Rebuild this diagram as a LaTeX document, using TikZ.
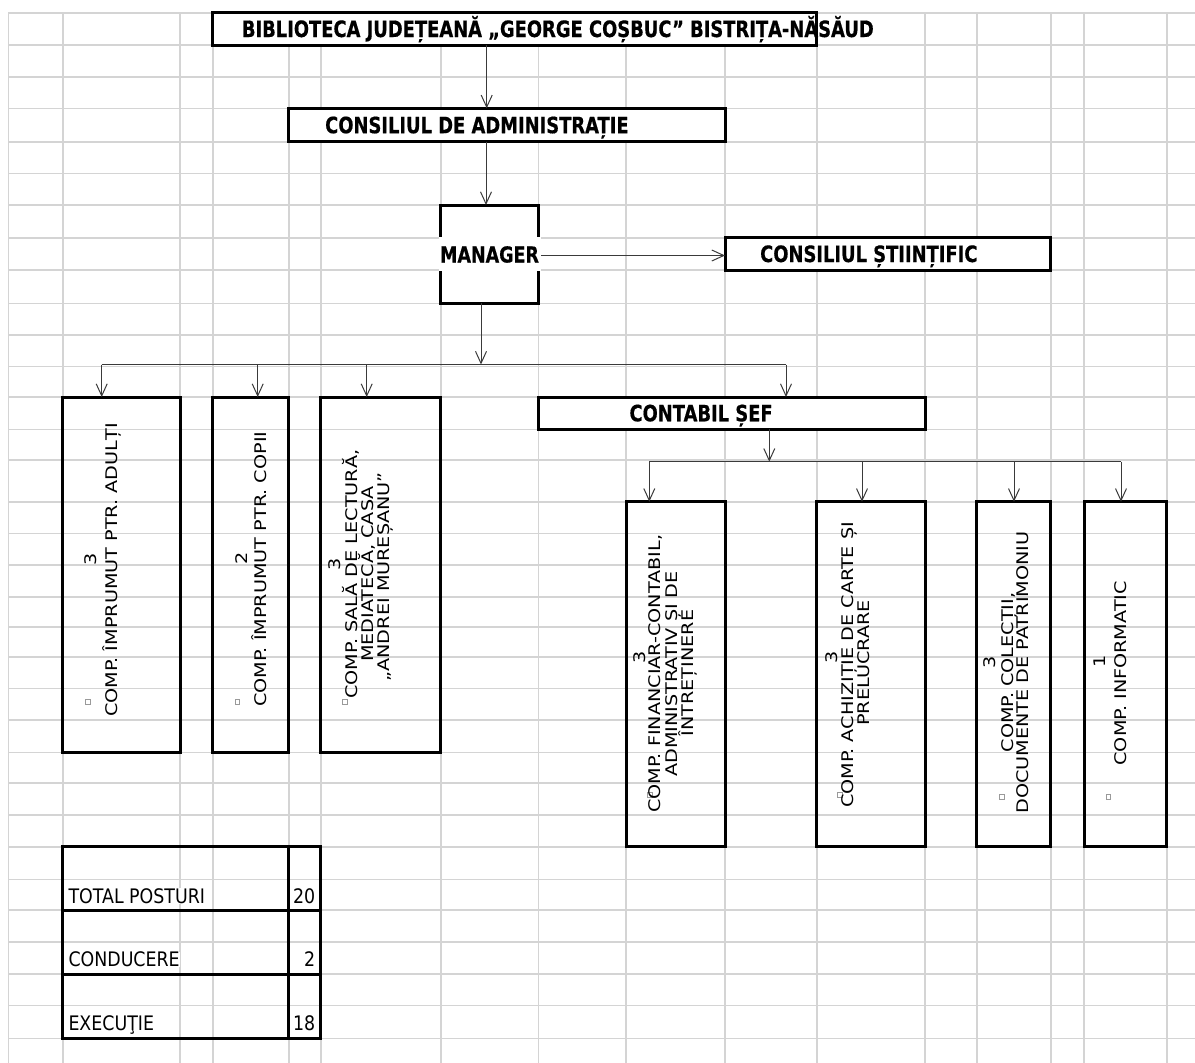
\documentclass[tikz,border=0pt]{standalone}
\usepackage{fontspec}
\setmainfont{DejaVu Sans}
\newfontfamily\hdfont[FakeStretch=0.795,FakeBold=0.5]{DejaVu Sans}
\newfontfamily\rotfont[FakeStretch=1.2]{DejaVu Sans}
\newfontfamily\tabfont[FakeStretch=0.87]{DejaVu Sans}
\usetikzlibrary{arrows.meta}
\definecolor{gridc}{HTML}{D4D4D4}
\definecolor{arrc}{HTML}{3A3A3A}
\definecolor{sqc}{HTML}{9A9A9A}
\begin{document}
\begin{tikzpicture}[x=1pt,y=-1pt,
  gridl/.style={draw=gridc,line width=1.6pt},
  boxs/.style={draw=black,line width=3pt,rectangle,inner sep=0pt,outer sep=0pt},
  hd/.style={font=\hdfont\bfseries\fontsize{22.5pt}{23pt}\selectfont,inner sep=0pt,anchor=base west},
  rt/.style={font=\rotfont\fontsize{16pt}{16pt}\selectfont,inner sep=0pt,anchor=base,rotate=90},
  tb/.style={font=\tabfont\fontsize{20pt}{20pt}\selectfont,inner sep=0pt},
  arr/.style={draw=arrc,line width=1pt,-{Straight Barb[length=12pt,width=11pt,line width=1pt]}},
  ln/.style={draw=arrc,line width=1pt},
  sq/.style={draw=sqc,line width=0.6pt,minimum size=4.6pt,inner sep=0pt,rectangle}]
\useasboundingbox (0,0) rectangle (1195,1063);
\fill[white] (0,0) rectangle (1195,1063);
% spreadsheet grid
\foreach \x in {8.3,62.7,180,212.7,288.7,320.7,440.7,538.3,626,725,816.7,925,976.7,1050.7,1084,1166.7}
  \draw[gridl] (\x,12.7) -- (\x,1063);
\foreach \y in {12.7,45,76.7,108.3,141.7,173.3,205,237.7,270,303.3,335,366.5,397,429.3,460,501.7,533.3,565,596.7,626.7,656.7,688.3,720,752.3,783,815,846.7,879.3,910,941.7,974,1005.5,1038.3}
  \draw[gridl] (8.3,\y) -- (1195,\y);

% boxes
\node[boxs,fill=white,minimum width=604pt,minimum height=32.3pt] (title) at (514.7,28.85) {};
\fill[white] (818.3,13.5) rectangle (872,44.2);
\node[boxs,fill=white,minimum width=436.3pt,minimum height=33.4pt] (cadm) at (506.85,125) {};
\node[boxs,fill=white,minimum width=97.6pt,minimum height=98.3pt] (mgr) at (489.5,254.15) {};
\fill[white] (438.5,236.8) rectangle (541,270.9);
\node[boxs,fill=white,minimum width=325.7pt,minimum height=32.3pt] (csti) at (887.85,253.85) {};
\node[boxs,fill=white,minimum width=386.7pt,minimum height=32.3pt] (csef) at (731.65,413.15) {};

\node[boxs,minimum width=117.3pt,minimum height=355.3pt] (c1) at (121.35,574.65) {};
\node[boxs,minimum width=76pt,minimum height=355.3pt] (c2) at (250.7,574.65) {};
\node[boxs,minimum width=120pt,minimum height=355.3pt] (c3) at (380.7,574.65) {};

\node[boxs,minimum width=99pt,minimum height=345pt] (d1) at (675.5,674.2) {};
\node[boxs,minimum width=108.3pt,minimum height=345pt] (d2) at (870.85,674.2) {};
\node[boxs,minimum width=74pt,minimum height=345pt] (d3) at (1013.7,674.2) {};
\node[boxs,minimum width=82.7pt,minimum height=345pt] (d4) at (1125.35,674.2) {};

% summary table
\node[boxs,minimum width=226pt,minimum height=63.3pt] (ta1) at (175.7,878.35) {};
\node[boxs,minimum width=32pt,minimum height=63.3pt] (tn1) at (304.7,878.35) {};
\node[boxs,minimum width=226pt,minimum height=64pt] (ta2) at (175.7,942) {};
\node[boxs,minimum width=32pt,minimum height=64pt] (tn2) at (304.7,942) {};
\node[boxs,minimum width=226pt,minimum height=64.3pt] (ta3) at (175.7,1006.15) {};
\node[boxs,minimum width=32pt,minimum height=64.3pt] (tn3) at (304.7,1006.15) {};

% header texts
\node[hd] (ttxt) at (241.7,37) {BIBLIOTECA JUDEȚEANĂ „GEORGE COȘBUC” BISTRIȚA-NĂSĂUD};
\node[hd] (atxt) at (325,133.2) {CONSILIUL DE ADMINISTRAȚIE};
\node[hd,anchor=base,font=\hdfont\bfseries\fontsize{22pt}{23pt}\selectfont] (mtxt) at (489.5,262.5) {MANAGER};
\node[hd] (stxt) at (760,262) {CONSILIUL ȘTIINȚIFIC};
\node[hd] (ctxt) at (629.3,421.3) {CONTABIL ȘEF};

% rotated texts
\node[rt] (c1n) at (96.6,559) {3};
\node[sq] (c1s) at (88,702) {};
\node[rt] (c1t) at (117.5,570) {COMP. ÎMPRUMUT PTR. ADULȚI};

\node[rt] (c2n) at (247.5,558) {2};
\node[sq] (c2s) at (237.3,701.7) {};
\node[rt] (c2t) at (266.6,569.2) {COMP. ÎMPRUMUT PTR. COPII};

\node[rt] (c3n) at (340.8,564) {3};
\node[sq] (c3s) at (345,701.7) {};
\node[rt] (c3a) at (357.5,574) {COMP. SALĂ DE LECTURĂ,};
\node[rt] (c3b) at (373.8,574) {MEDIATECĂ, CASA};
\node[rt] (c3c) at (389.3,577) {„ANDREI MUREȘANU”};

\node[rt] (d1n) at (645.8,657.5) {3};
\node[sq] (d1s) at (650,795) {};
\node[rt] (d1a) at (660.8,673.7) {COMP. FINANCIAR-CONTABIL,};
\node[rt] (d1b) at (677.5,674) {ADMINISTRATIV ȘI DE};
\node[rt] (d1c) at (693.5,673) {ÎNTREȚINERE};

\node[rt] (d2n) at (837.5,657.5) {3};
\node[sq] (d2s) at (840,795) {};
\node[rt] (d2a) at (853.3,665) {COMP. ACHIZIȚIE DE CARTE ȘI};
\node[rt] (d2b) at (869.8,663) {PRELUCRARE};

\node[rt] (d3n) at (995.8,662.5) {3};
\node[sq] (d3s) at (1001.7,796.7) {};
\node[rt] (d3a) at (1013.3,672.5) {COMP. COLECȚII,};
\node[rt] (d3b) at (1028.3,672.5) {DOCUMENTE DE PATRIMONIU};

\node[rt] (d4n) at (1105.8,661.7) {1};
\node[sq] (d4s) at (1108.3,796.7) {};
\node[rt] (d4a) at (1126.8,673.3) {COMP. INFORMATIC};

% table texts
\node[tb,fill=white,anchor=base west] (tt1) at (68.3,903.3) {TOTAL POSTURI};
\node[tb,anchor=base east] (tv1) at (315.5,903.3) {20};
\node[tb,fill=white,anchor=base west] (tt2) at (68.3,966.7) {CONDUCERE};
\node[tb,anchor=base east] (tv2) at (315.5,966.7) {2};
\node[tb,fill=white,anchor=base west] (tt3) at (68.3,1030.7) {EXECUŢIE};
\node[tb,anchor=base east] (tv3) at (315.5,1030.7) {18};

% connector helper coordinates
\coordinate (xa) at (486.7,0);
\coordinate (xb) at (486,0);
\coordinate (ym) at (0,255.5);
\coordinate (bus1) at (481,364.5);
\coordinate (k1) at (101.7,0);
\coordinate (k2) at (257.7,0);
\coordinate (k3) at (366.7,0);
\coordinate (k4) at (786,0);
\coordinate (bus2) at (769.3,461.7);
\coordinate (m1) at (649.3,0);
\coordinate (m2) at (862,0);
\coordinate (m3) at (1014,0);
\coordinate (m4) at (1121,0);

% connectors
\draw[arr] (title.south -| xa) -- (cadm.north -| xa);
\draw[arr] (cadm.south -| xb) -- (mgr.north -| xb);
\draw[arr,shorten <=2pt] (mtxt.east |- ym) -- (csti.west |- ym);
\draw[arr] (mgr.south -| bus1) -- (bus1);
\draw[ln] (bus1 -| k1) -- (bus1 -| k4);
\draw[arr] (bus1 -| k1) -- (c1.north -| k1);
\draw[arr] (bus1 -| k2) -- (c2.north -| k2);
\draw[arr] (bus1 -| k3) -- (c3.north -| k3);
\draw[arr] (bus1 -| k4) -- (csef.north -| k4);
\draw[arr] (csef.south -| bus2) -- (bus2);
\draw[ln] (bus2 -| m1) -- (bus2 -| m4);
\draw[arr] (bus2 -| m1) -- (d1.north -| m1);
\draw[arr] (bus2 -| m2) -- (d2.north -| m2);
\draw[arr] (bus2 -| m3) -- (d3.north -| m3);
\draw[arr] (bus2 -| m4) -- (d4.north -| m4);
\end{tikzpicture}
\end{document}
